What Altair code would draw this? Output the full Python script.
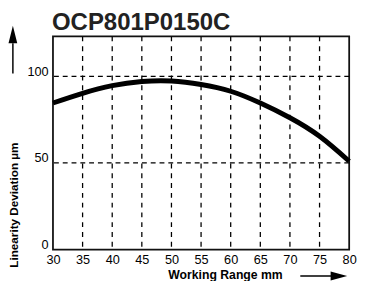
import altair as alt
import pandas as pd

# data
working_range = [30, 35, 40, 45, 50, 55, 60, 65, 70, 75, 80]
linearity = [84.6, 90.2, 94.6, 97.0, 97.3, 95.3, 91.4, 84.6, 76.1, 65.4, 51.0]
x_ticks = [30, 35, 40, 45, 50, 55, 60, 65, 70, 75, 80]
y_ticks = [0, 50, 100]
chart_title = "OCP801P0150C"

df = pd.DataFrame({"x": working_range, "y": linearity})
one = pd.DataFrame({"k": [0]})

W, H = 303, 218
FONT = "Liberation Sans"

xs = alt.Scale(domain=[30, 80], nice=False, zero=False)
ys = alt.Scale(domain=[0, 123], nice=False)

x_axis = alt.Axis(
    values=x_ticks,
    grid=False,
    ticks=False,
    domain=False,
    labelOverlap=False,
    labelFlush=False,
    labelFont=FONT,
    labelFontSize=13,
    labelColor="black",
    labelPadding=4,
    title="Working Range mm",
    titleFont=FONT,
    titleFontSize=12.5,
    titleFontWeight="bold",
    titleColor="black",
    titleX=176,
    titleY=30,
    titleBaseline="alphabetic",
)
y_axis = alt.Axis(
    values=y_ticks,
    grid=False,
    ticks=False,
    domain=False,
    labelFont=FONT,
    labelFontSize=13,
    labelColor="black",
    labelPadding=5,
    labelBaseline="alphabetic",
    labelOffset=-1,
    title="Linearity Deviation µm",
    titleFont=FONT,
    titleFontSize=12,
    titleFontWeight="bold",
    titleColor="black",
    titleX=-40,
    titleY=172,
    titleAngle=270,
    titleAlign="center",
    titleBaseline="middle",
)

x_grid = pd.DataFrame({"x": x_ticks[1:-1]})
y_grid = pd.DataFrame({"y": [50, 100]})

vgrid = alt.Chart(x_grid).mark_rule(color="black", strokeWidth=1.3, strokeDash=[5, 5]).encode(
    x=alt.X("x:Q", scale=xs, axis=x_axis)
)
hgrid = alt.Chart(y_grid).mark_rule(color="black", strokeWidth=1.3, strokeDash=[5, 4]).encode(
    y=alt.Y("y:Q", scale=ys, axis=y_axis)
)

line = alt.Chart(df).mark_line(color="black", strokeWidth=5, interpolate="natural").encode(
    x=alt.X("x:Q", scale=xs, axis=x_axis),
    y=alt.Y("y:Q", scale=ys, axis=y_axis),
)

title = alt.Chart(one).mark_text(
    text=chart_title, font=FONT, fontSize=24.5, fontWeight="bold", color="#222",
    align="left", baseline="alphabetic",
).encode(x=alt.value(-1), y=alt.value(-7))

# decorative arrows
up_line = alt.Chart(one).mark_rule(color="black", strokeWidth=1.5).encode(
    x=alt.value(-41), y=alt.value(7), y2=alt.value(38)
)
up_head = alt.Chart(one).mark_point(
    shape="M0,-1L0.5,1L-0.5,1Z", filled=True, color="black", opacity=1, size=324
).encode(x=alt.value(-41), y=alt.value(-2))
right_line = alt.Chart(one).mark_rule(color="black", strokeWidth=1.5).encode(
    x=alt.value(253), x2=alt.value(286), y=alt.value(245)
)
right_head = alt.Chart(one).mark_point(
    shape="M1,0L-1,-0.53L-1,0.53Z", filled=True, color="black", opacity=1, size=289
).encode(x=alt.value(292.5), y=alt.value(245))

chart = (
    alt.layer(vgrid, hgrid, line, title, up_line, up_head, right_line, right_head)
    .properties(
        width=W,
        height=H,
        view=alt.ViewBackground(stroke="#111", strokeWidth=1.8),
        autosize=alt.AutoSizeParams(type="none"),
        padding={"left": 46, "top": 26, "right": 8, "bottom": 29},
    )
    .configure_view(stroke="#111", strokeWidth=1.8)
    .configure(background="white")
)

chart.save("out.html", embed_options={"renderer": "svg", "actions": False})
